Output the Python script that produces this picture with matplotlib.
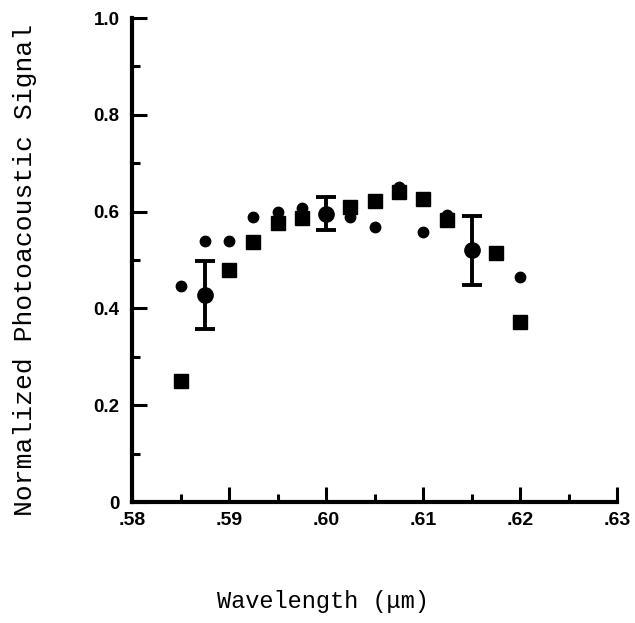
import matplotlib.pyplot as plt
import numpy as np
from matplotlib.ticker import MultipleLocator, FixedLocator

# ##### Data #####

# large (square) markers
sq_wl = [0.585, 0.590, 0.5925, 0.595, 0.5975, 0.6025, 0.605, 0.6075,
         0.610, 0.6125, 0.6175, 0.620]
sq_sig = [0.249, 0.479, 0.538, 0.576, 0.586, 0.610, 0.622, 0.641,
          0.626, 0.583, 0.515, 0.371]

# small (dot) markers
dot_wl = [0.585, 0.5875, 0.590, 0.5925, 0.595, 0.5975, 0.6025, 0.605,
          0.6075, 0.610, 0.6125, 0.620]
dot_sig = [0.447, 0.539, 0.539, 0.588, 0.600, 0.607, 0.589, 0.568,
           0.650, 0.557, 0.592, 0.465]

# averaged points with error bars
err_wl = [0.5875, 0.600, 0.615]
err_sig = [0.428, 0.596, 0.520]
err_bar = [0.070, 0.034, 0.071]

xtick_vals = [0.58, 0.59, 0.60, 0.61, 0.62, 0.63]
xtick_text = [".58", ".59", ".60", ".61", ".62", ".63"]
ytick_vals = [0, 0.2, 0.4, 0.6, 0.8, 1.0]
ytick_text = ["0", "0.2", "0.4", "0.6", "0.8", "1.0"]

mono = "Liberation Mono"
tickfont = "Liberation Sans"

# ##### Make plot #####

fig = plt.figure(figsize=(6.35, 6.23), dpi=100)
ax = fig.add_axes([0.2079, 0.1942, 0.7638, 0.7769])

ax.plot(sq_wl, sq_sig, ls="none", marker="s", ms=9.5, color="black",
        zorder=3)
ax.plot(dot_wl, dot_sig, ls="none", marker="o", ms=7.5, color="black",
        zorder=3)
ax.errorbar(err_wl, err_sig, yerr=err_bar, fmt="o", ms=11, color="black",
            elinewidth=2.8, capsize=7, capthick=2.8, zorder=4)

ax.set_xlim(0.58, 0.63)
ax.set_ylim(0, 1.0)

for side in ["top", "right"]:
    ax.spines[side].set_visible(False)
for side in ["left", "bottom"]:
    ax.spines[side].set_linewidth(3)

ax.xaxis.set_major_locator(FixedLocator(xtick_vals))
ax.set_xticklabels(xtick_text, fontfamily=tickfont, fontweight="bold",
                   fontsize=14)
ax.xaxis.set_minor_locator(MultipleLocator(0.005))
ax.yaxis.set_major_locator(FixedLocator(ytick_vals))
ax.set_yticklabels(ytick_text, fontfamily=tickfont, fontweight="bold",
                   fontsize=13.5)
ax.yaxis.set_minor_locator(MultipleLocator(0.1))

ax.tick_params(which="major", direction="in", length=11, width=2.2,
               color="black")
ax.tick_params(which="minor", direction="in", length=6, width=2.2,
               color="black")
ax.tick_params(axis="x", which="major", pad=7)
ax.tick_params(axis="y", which="major", pad=9)

fig.text(0.040, 0.566, "Normalized Photoacoustic Signal", rotation=90,
         ha="center", va="center", fontfamily=mono, fontsize=19)
fig.text(0.509, 0.034, "Wavelength (\u03bcm)", ha="center", va="center",
         fontfamily=mono, fontsize=17)

fig.savefig("out.png", dpi=100)
plt.close()
